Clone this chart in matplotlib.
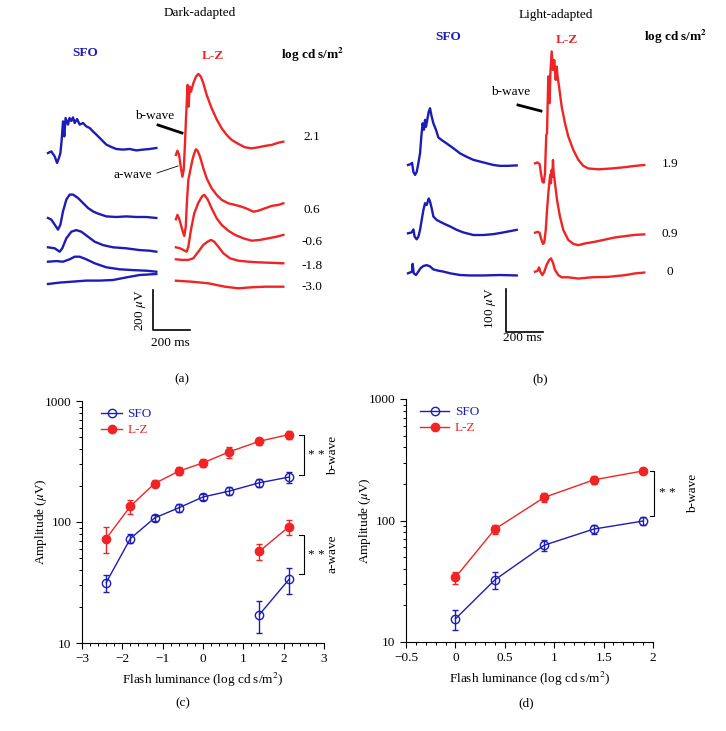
import numpy as np
import matplotlib
matplotlib.use('Agg')
import matplotlib.pyplot as plt
from matplotlib.ticker import (MultipleLocator, LogLocator, NullFormatter, FixedLocator,
                               FixedFormatter, FuncFormatter)

plt.rcParams['font.family'] = ['Liberation Serif', 'DejaVu Serif']
plt.rcParams['mathtext.fontset'] = 'stix'
plt.rcParams['font.size'] = 9.5

BLUE = '#1c1cb8'
RED = '#f02424'

# ERG traces, (time ms, amplitude uV) relative to trace start / baseline
# dark-adapted
dark_sfo_21 = [(0, 0), (18, 8), (36, -17), (49, -50), (59, -25), (67, 0), (74, 67), (81, 158),
               (88, 83), (95, 175), (108, 142), (116, 175), (126, 160), (135, 178), (144, 150),
               (157, 170), (171, 142), (189, 150), (207, 133), (225, 125), (243, 108), (261, 92),
               (288, 67), (315, 42), (342, 30), (369, 20), (405, 17), (441, 20), (477, 13),
               (513, 17), (549, 20), (585, 25)]
dark_sfo_06 = [(0, 0), (18, -8), (36, -33), (54, -58), (67, -33), (81, 33), (99, 92), (117, 117),
               (135, 117), (162, 100), (189, 75), (216, 50), (243, 33), (270, 22), (315, 8),
               (369, 5), (423, 8), (477, 5), (531, 5), (585, 0)]
dark_sfo_m06 = [(0, 2), (36, -3), (63, -20), (77, -3), (99, 47), (126, 80), (153, 88), (180, 80),
                (216, 55), (252, 30), (297, 13), (351, 2), (423, -3), (495, -12), (549, -15),
                (585, -20)]
dark_sfo_m18 = [(0, 0), (45, 3), (81, 0), (117, 12), (144, 25), (171, 25), (207, 12), (252, -8),
                (315, -28), (387, -38), (459, -42), (531, -45), (585, -50)]
dark_sfo_m30 = [(0, 0), (63, 7), (135, 12), (207, 17), (279, 17), (351, 20), (423, 33), (495, 45),
                (585, 50)]

dark_lz_21 = [(5, -8), (13, 13), (22, -8), (31, -67), (40, -117), (47, -83), (54, 50), (59, 167),
              (65, 283), (68, 342), (74, 233), (79, 333), (86, 308), (99, 350), (113, 383),
              (126, 397), (140, 383), (153, 350), (171, 292), (198, 225), (225, 170), (252, 125),
              (279, 92), (306, 67), (342, 47), (378, 30), (414, 25), (450, 30), (486, 37),
              (522, 42), (558, 53), (585, 58)]
dark_lz_06 = [(5, -5), (13, 17), (22, 0), (32, -33), (45, -75), (50, -88), (58, -42), (65, 92),
              (72, 192), (83, 242), (94, 292), (104, 325), (113, 345), (122, 338), (135, 308),
              (153, 250), (171, 200), (198, 150), (225, 117), (252, 92), (288, 75), (324, 67),
              (360, 58), (396, 45), (423, 33), (450, 38), (486, 50), (522, 62), (558, 67), (585, 75)]
dark_lz_m06 = [(5, 0), (27, -5), (45, -13), (63, -22), (72, 3), (86, 87), (104, 170), (126, 223),
               (148, 257), (158, 262), (176, 240), (198, 195), (225, 145), (252, 112), (288, 83),
               (324, 62), (369, 45), (414, 33), (459, 37), (504, 45), (549, 53), (585, 62)]
dark_lz_m18 = [(5, 0), (36, -3), (72, -3), (99, 5), (126, 38), (153, 72), (176, 88), (194, 97),
               (212, 88), (234, 63), (261, 30), (297, 5), (342, -7), (396, -12), (450, -15),
               (504, -17), (585, -20)]
dark_lz_m30 = [(5, 0), (90, -5), (180, -13), (270, -30), (342, -38), (414, -33), (486, -30),
               (585, -30)]

# light-adapted
light_sfo_19 = [(0, 0), (14, 2), (22, 5), (29, -16), (38, -23), (47, -16), (56, 4), (65, 27),
                (72, 66), (79, 97), (86, 82), (92, 105), (97, 89), (104, 105), (112, 124),
                (119, 132), (126, 116), (137, 97), (151, 82), (164, 64), (182, 58), (209, 50),
                (245, 39), (281, 27), (317, 19), (353, 12), (389, 8), (425, 4), (461, 0),
                (497, -2), (533, -2), (587, -1)]
light_sfo_09 = [(0, 0), (20, 2), (29, 9), (36, -8), (47, -14), (56, -8), (65, 8), (74, 31),
                (83, 54), (92, 70), (101, 66), (112, 81), (119, 74), (128, 58), (137, 39),
                (155, 31), (191, 23), (227, 16), (263, 8), (299, 2), (353, -4), (407, -4),
                (461, -2), (515, 2), (587, 8)]
light_sfo_0 = [(0, 0), (11, 2), (22, 4), (25, 22), (31, 0), (43, -4), (56, 4), (68, 12), (83, 17),
               (101, 19), (119, 16), (137, 9), (164, 6), (191, 4), (227, 0), (281, -4), (335, -5),
               (407, -5), (497, -4), (587, -5)]
light_lz_19 = [(0, 0), (14, 2), (25, -2), (32, -23), (40, -43), (47, -45), (54, -23), (58, 31),
               (61, 66), (65, 70), (68, 132), (72, 202), (76, 171), (79, 140), (83, 209), (90, 260),
               (97, 217), (104, 240), (112, 194), (117, 225), (122, 202), (130, 178), (144, 132),
               (162, 93), (180, 62), (207, 31), (234, 8), (261, -6), (288, -12), (342, -14),
               (414, -12), (486, -9), (540, -6), (590, -4)]
light_lz_09 = [(0, 0), (14, 2), (25, 0), (32, -13), (43, -26), (50, -23), (58, 6), (65, 53),
               (72, 92), (79, 123), (83, 135), (86, 115), (90, 146), (94, 130), (97, 169),
               (101, 138), (108, 115), (119, 76), (135, 37), (153, 6), (180, -17), (207, -26),
               (234, -29), (270, -25), (324, -21), (378, -16), (432, -11), (486, -8), (540, -5),
               (590, -4)]
light_lz_0 = [(0, 0), (14, 2), (22, 10), (29, 0), (40, -8), (50, 0), (63, 16), (76, 27), (86, 31),
              (97, 21), (108, 4), (126, -8), (144, -13), (180, -13), (234, -16), (306, -13),
              (396, -12), (486, -8), (540, -4), (590, -2)]

dark_levels = ['2.1', '0.6', '-0.6', '-1.8', '-3.0']
light_levels = ['1.9', '0.9', '0']

# intensity-response, dark-adapted (c)
lum_dark = [-2.4, -1.8, -1.2, -0.6, 0.0, 0.65, 1.4, 2.13]
sfo_b = [31.6, 73, 108, 131, 161, 180, 211, 235]
sfo_b_err = [5, 6, 7, 9, 10, 13, 15, 24]
lz_b = [73, 135, 208, 263, 308, 380, 465, 528]
lz_b_err = [18, 18, 15, 20, 22, 40, 30, 40]
lum_a = [1.4, 2.13]
sfo_a = [17.2, 33.5]
sfo_a_err = [5, 8]
lz_a = [57.3, 91.5]
lz_a_err = [9, 13]

# intensity-response, light-adapted (d)
lum_light = [0.0, 0.4, 0.9, 1.4, 1.9]
sfo_l = [15.5, 32.5, 62.7, 85, 99]
sfo_l_err = [3, 5, 7, 7, 8]
lz_l = [34, 85, 155, 216, 256]
lz_l_err = [4, 7, 12, 17, 15]

W, H = 726, 731
fig = plt.figure(figsize=(W / 100, H / 100), dpi=100)

MS_PX = 5.4  # ms per pixel in both trace panels


def trace_axes(px0, uv_px, start_px):
    ax = fig.add_axes([px0 / W, 1 - 380 / H, 363 / W, 380 / H])
    ax.set_xlim((px0 - start_px) * MS_PX, (px0 + 363 - start_px) * MS_PX)
    ax.set_ylim(0, 380 * uv_px)
    ax.axis('off')
    return ax


def draw(ax, pts, x0, base_px, uv_px, color):
    t, v = np.array(pts, dtype=float).T
    ax.plot(t + x0, v + (380 - base_px) * uv_px, color=color, lw=1.7, solid_joinstyle='round')


# (a) dark-adapted traces
UV_A = 5.0
ax_a = trace_axes(0, UV_A, 48)
lz_off = (175 - 48) * MS_PX
for pts, b in zip([dark_sfo_21, dark_sfo_06, dark_sfo_m06, dark_sfo_m18, dark_sfo_m30],
                  [153, 218, 247.7, 261.7, 284]):
    draw(ax_a, pts, 0, b, UV_A, BLUE)
for pts, b in zip([dark_lz_21, dark_lz_06, dark_lz_m06, dark_lz_m18, dark_lz_m30],
                  [153.3, 218.3, 247.3, 259.3, 280.7]):
    draw(ax_a, pts, lz_off, b, UV_A, RED)
sx, sy = (153 - 48) * MS_PX, (380 - 330) * UV_A
ax_a.plot([sx, sx, sx + 200], [sy + 200, sy, sy], color='k', lw=1.2)

# (b) light-adapted traces
UV_B = 100 / 43
ax_b = trace_axes(363, UV_B, 408)
for pts, b in zip([light_sfo_19, light_sfo_09, light_sfo_0], [165, 233.3, 273.3]):
    draw(ax_b, pts, 0, b, UV_B, BLUE)
for pts, b in zip([light_lz_19, light_lz_09, light_lz_0], [163.3, 232.7, 271.7]):
    draw(ax_b, pts, (535 - 408) * MS_PX, b, UV_B, RED)
sx, sy = (506 - 408) * MS_PX, (380 - 332) * UV_B
ax_b.plot([sx, sx, sx + 200], [sy + 100, sy, sy], color='k', lw=1.2)

# overlay in pixel coordinates for labels
ov = fig.add_axes([0, 0, 1, 1])
ov.set_xlim(0, W)
ov.set_ylim(H, 0)
ov.axis('off')


def t(x, y, s, **kw):
    kw.setdefault('ha', 'center')
    kw.setdefault('va', 'center')
    ov.text(x, y, s, **kw)


t(200, 13, 'Dark-adapted')
t(85, 53, 'SFO', color=BLUE, weight='bold')
t(213, 56, 'L-Z', color=RED, weight='bold')
t(313, 55, 'log cd s/m$^\\mathbf{2}$', weight='bold')
for s, y in zip(dark_levels, [137, 210, 242, 266, 287]):
    t(312, y, s)
t(155, 116, 'b-wave')
ov.plot([158, 182], [125, 133], color='k', lw=2)
t(133, 175, 'a-wave')
ov.plot([157, 178], [173, 166], color='k', lw=0.6)
t(140, 310, '200 $\\mu$V', rotation=90)
t(170, 343, '200 ms')
t(182, 379, '(a)')

t(556, 15, 'Light-adapted')
t(448, 37, 'SFO', color=BLUE, weight='bold')
t(567, 40, 'L-Z', color=RED, weight='bold')
t(676, 37, 'log cd s/m$^\\mathbf{2}$', weight='bold')
for s, y in zip(light_levels, [164, 234, 272]):
    t(670, y, s)
t(511, 92, 'b-wave')
ov.plot([518, 541], [105, 111], color='k', lw=2)
t(491, 308, '100 $\\mu$V', rotation=90)
t(522, 338, '200 ms')
t(540, 379, '(b)')

num_fmt = FuncFormatter(lambda v, p: f'{v:g}'.replace('-', '\u2212'))


def ir_axes(rect, xlim, major, minor):
    ax = fig.add_axes(rect)
    ax.set_yscale('log')
    ax.set_ylim(10, 1000)
    ax.set_xlim(*xlim)
    ax.xaxis.set_major_locator(MultipleLocator(major))
    ax.xaxis.set_minor_locator(MultipleLocator(minor))
    ax.xaxis.set_major_formatter(num_fmt)
    ax.yaxis.set_major_locator(FixedLocator([10, 100, 1000]))
    ax.yaxis.set_major_formatter(FixedFormatter(['10', '100', '1000']))
    ax.yaxis.set_minor_locator(LogLocator(base=10, subs=np.arange(2, 10)))
    ax.yaxis.set_minor_formatter(NullFormatter())
    for s in ['top', 'right']:
        ax.spines[s].set_visible(False)
    ax.tick_params(which='major', length=4, width=0.8, labelsize=9.5)
    ax.tick_params(which='minor', length=2.5, width=0.7)
    ax.set_xlabel('Flash luminance (log cd s/m$^2$)', fontsize=9.5)
    ax.set_ylabel('Amplitude ($\\mu$V)', fontsize=9.5, labelpad=-3)
    return ax


def series(ax, x, y, e, color, filled, label=None):
    ax.errorbar(x, y, yerr=e, fmt='none', ecolor=color, elinewidth=1, capsize=2.5, capthick=1)
    ax.plot(x, y, '-o', color=color, lw=1, ms=6, mew=1,
            mfc=color if filled else 'none', label=label)


def bracket(ax, x0, x1, y0, y1):
    ax.plot([x0, x1, x1, x0], [y0, y0, y1, y1], color='k', lw=0.8, clip_on=False)


# (c)
ax_c = ir_axes([82 / W, 1 - 643 / H, 242 / W, 242 / H], (-3, 3), 1, 0.2)
series(ax_c, lum_dark, sfo_b, sfo_b_err, BLUE, False, 'SFO')
series(ax_c, lum_dark, lz_b, lz_b_err, RED, True, 'L-Z')
series(ax_c, lum_a, sfo_a, sfo_a_err, BLUE, False)
series(ax_c, lum_a, lz_a, lz_a_err, RED, True)
bracket(ax_c, 2.39, 2.5, sfo_b[-1] + 10, lz_b[-1])
bracket(ax_c, 2.39, 2.5, 37, 78)
ax_c.text(2.82, np.sqrt((sfo_b[-1] + 10) * lz_b[-1]), '* *', ha='center', va='center', clip_on=False)
ax_c.text(2.82, np.sqrt(37 * 78), '* *', ha='center', va='center', clip_on=False)
ax_c.text(3.22, 355, 'b-wave', rotation=90, ha='center', va='center', clip_on=False)
ax_c.text(3.22, 55, 'a-wave', rotation=90, ha='center', va='center', clip_on=False)
ax_c.legend(loc='upper left', bbox_to_anchor=(0.03, 1.02), frameon=False, handlelength=1.6,
            handletextpad=0.4, labelspacing=0.3, fontsize=9.5, labelcolor='linecolor')
t(183, 703, '(c)')

# (d)
ax_d = ir_axes([406 / W, 1 - 642 / H, 247 / W, 243 / H], (-0.5, 2), 0.5, 0.1)
series(ax_d, lum_light, sfo_l, sfo_l_err, BLUE, False, 'SFO')
series(ax_d, lum_light, lz_l, lz_l_err, RED, True, 'L-Z')
bracket(ax_d, 1.966, 2.007, 109, lz_l[-1])
ax_d.text(2.14, np.sqrt(109 * lz_l[-1]), '* *', ha='center', va='center', clip_on=False)
ax_d.text(2.405, 167, 'b-wave', rotation=90, ha='center', va='center', clip_on=False)
ax_d.legend(loc='upper left', bbox_to_anchor=(0.01, 1.02), frameon=False, handlelength=2.2,
            handletextpad=0.4, labelspacing=0.3, fontsize=9.5, labelcolor='linecolor')
t(526, 703, '(d)')

fig.savefig('out.png', dpi=100)
